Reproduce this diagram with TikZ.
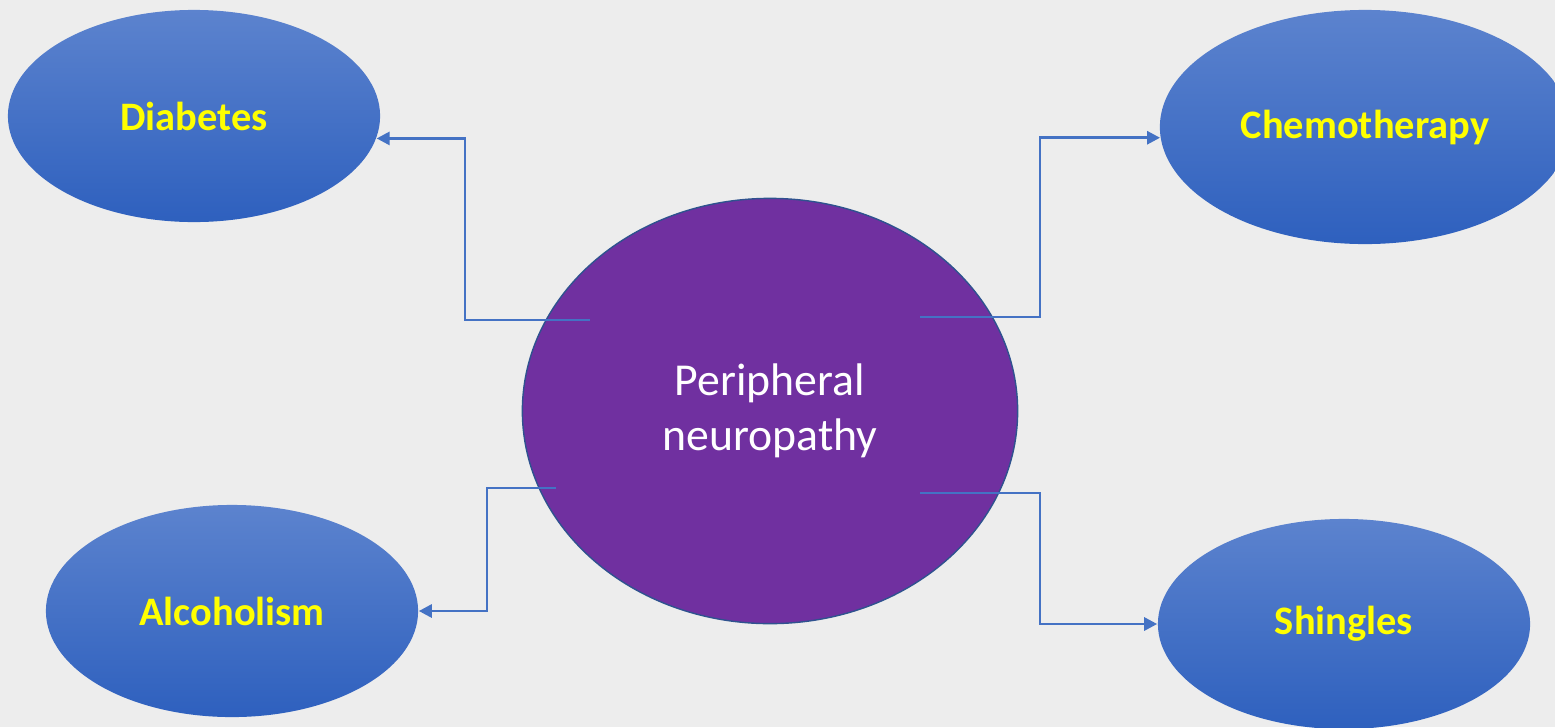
\documentclass[tikz,border=0pt]{standalone}
\usepackage{fontspec}
\setmainfont{Carlito}
\usetikzlibrary{shapes.geometric,arrows.meta}
\definecolor{backdrop}{HTML}{EDEDED}
\definecolor{linkblue}{HTML}{4472C4}
\definecolor{causetop}{HTML}{5C83CE}
\definecolor{causebot}{HTML}{2E60BE}
\definecolor{neuro}{HTML}{7030A0}
\definecolor{neuroedge}{HTML}{2F528F}
\definecolor{labelyellow}{HTML}{FFFF00}

\begin{document}
\begin{tikzpicture}[x=0.01cm,y=-0.01cm,
  cause/.style={ellipse,inner sep=0pt,top color=causetop,bottom color=causebot,
    minimum width=3.72cm,minimum height=2.12cm,text=labelyellow,
    font=\fontsize{11.5}{14}\selectfont\bfseries},
  disorder/.style={ellipse,inner sep=0pt,fill=neuro,draw=neuroedge,line width=0.4pt,
    minimum width=4.95cm,minimum height=4.25cm,text=white,align=center,
    font=\fontsize{13}{15.6}\selectfont},
  link/.style={draw=linkblue,line width=0.8pt,-{Triangle[length=0.13cm,width=0.13cm]}}]
\useasboundingbox (0,0) rectangle (1555,727);
\fill[backdrop] (0,0) rectangle (1555,727);

% causes
\node[cause] (dia) at (194,116) {Diabetes};
\node[cause,minimum width=4.1cm,minimum height=2.34cm] (chemo) at (1365,127) {Chemotherapy};
\node[cause] (alc) at (232,611) {Alcoholism};
\node[cause,minimum height=2.1cm] (shin) at (1344,624) {Shingles};

% centre
\node[disorder] (pn) at (770,411) {Peripheral\\neuropathy};

% start points inside the centre
\coordinate (s1) at (590,320);
\coordinate (s2) at (920,317);
\coordinate (s3) at (556,488);
\coordinate (s4) at (920,493);

\draw[link] (s1) -- ++(-125,0) |- (dia.-7);
\draw[link] (s2) -- ++(120,0) |- (chemo.183);
\draw[link] (s3) -- ++(-69,0) |- (alc.east);
\draw[link] (s4) -- ++(120,0) |- (shin.west);

\end{tikzpicture}
\end{document}
